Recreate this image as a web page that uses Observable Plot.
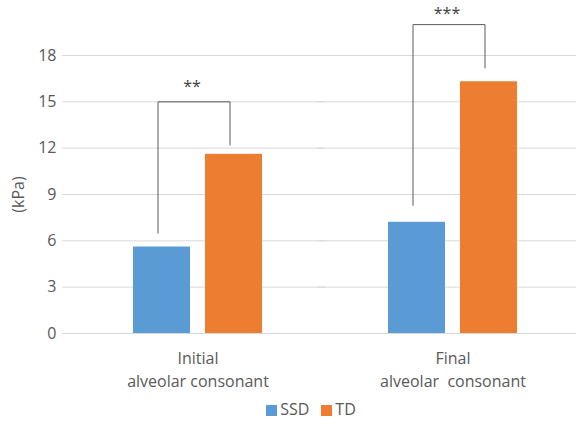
<!DOCTYPE html>
<html>
<head>
<meta charset="utf-8">
<script src="https://cdn.jsdelivr.net/npm/d3@7"></script>
<script src="https://cdn.jsdelivr.net/npm/@observablehq/plot@0.6"></script>
<style>
  html, body { margin: 0; padding: 0; background: #fff; overflow: hidden; }
  #chart { width: 576px; }
  svg text { white-space: pre; }
  .legend { display: flex; justify-content: center; align-items: center; gap: 12px;
            font-family: "Open Sans", sans-serif; font-size: 16px; color: #595959;
            padding-top: 3px; padding-left: 46px; }
  .legend span.sw { display: inline-block; width: 11px; height: 11px; margin-right: 3px; vertical-align: -1px; }
</style>
</head>
<body>
<div id="chart"></div>
<script>
const categories = ["Initial\nalveolar consonant", "Final\nalveolar  consonant"];
const groups = ["SSD", "TD"];
const colors = ["#5b9bd5", "#ed7d31"];
const ssdValues = [5.6, 7.2];
const tdValues = [11.6, 16.3];
const yTicks = [0, 3, 6, 9, 12, 15, 18];
const stars = ["**", "***"];
const bracketSSD = [6.5, 8.3];
const bracketTD = [12.2, 17.2];
const bracketTop = [15, 20];
const starY = [16, 20.7];

const bars = categories.flatMap((c, i) => [
  {category: c, group: "SSD", value: ssdValues[i]},
  {category: c, group: "TD", value: tdValues[i]}
]);
const bracketPts = categories.flatMap((c, i) => [
  {category: c, group: "SSD", y: bracketSSD[i]},
  {category: c, group: "SSD", y: bracketTop[i]},
  {category: c, group: "TD", y: bracketTop[i]},
  {category: c, group: "TD", y: bracketTD[i]}
]);
const starData = categories.map((c, i) => ({category: c, y: starY[i], text: stars[i]}));

const chart = Plot.plot({
  width: 576,
  height: 395,
  marginLeft: 70,
  marginRight: -4,
  marginTop: 55,
  marginBottom: 62,
  style: {fontFamily: "Open Sans, sans-serif", fontSize: "16px", color: "#595959", background: "white", overflow: "visible"},
  fx: {domain: categories, padding: 0, label: null},
  x: {domain: groups, axis: null, paddingInner: 0.21, paddingOuter: 0.87},
  y: {domain: [0, 18]},
  color: {domain: groups, range: colors},
  marks: [
    Plot.ruleY(yTicks, {stroke: "#d9d9d9", strokeWidth: 1, insetLeft: -8}),
    Plot.axisY({ticks: yTicks, tickSize: 0, tickPadding: 14, fontSize: 16, label: "(kPa)", labelAnchor: "center", labelArrow: "none", labelOffset: 58}),
    Plot.axisFx({anchor: "bottom", tickSize: 0, tickPadding: 14, fontSize: 16, lineHeight: 1.45, label: null}),
    Plot.barY(bars, {fx: "category", x: "group", y: "value", fill: "group"}),
    Plot.line(bracketPts, {fx: "category", x: "group", y: "y", z: "category", stroke: "#5a5a5a", strokeWidth: 1, dx: -4}),
    Plot.text(starData, {fx: "category", y: "y", text: "text", fill: "#404040", fontSize: 16, dx: -6})
  ]
});
document.getElementById("chart").appendChild(chart);

const legend = document.createElement("div");
legend.className = "legend";
groups.forEach((g, i) => {
  const item = document.createElement("span");
  const sw = document.createElement("span");
  sw.className = "sw";
  sw.style.background = colors[i];
  item.appendChild(sw);
  item.appendChild(document.createTextNode(g));
  legend.appendChild(item);
});
document.getElementById("chart").appendChild(legend);
</script>
</body>
</html>
